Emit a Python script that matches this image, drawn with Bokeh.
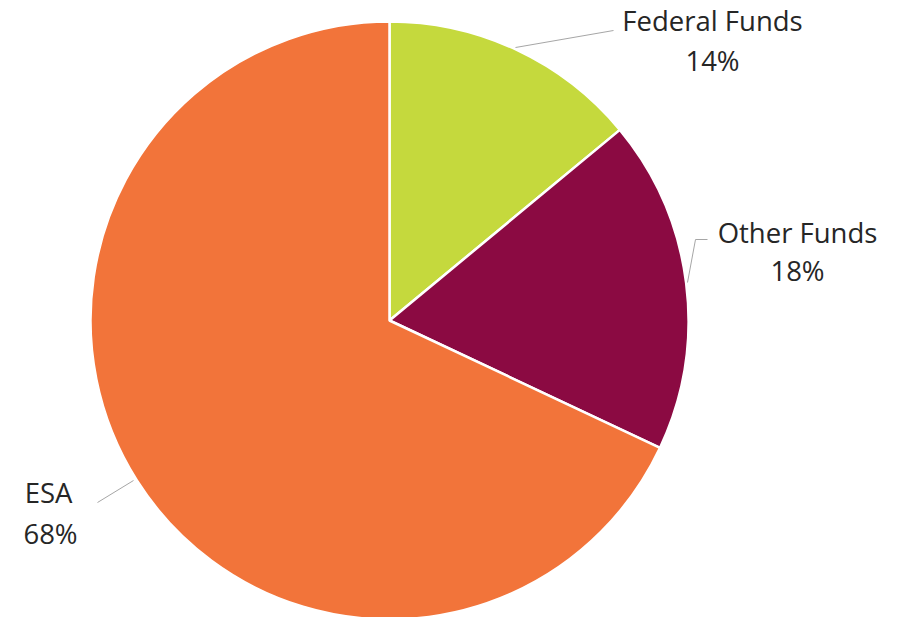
import numpy as np
from bokeh.plotting import figure
from bokeh.models import Range1d
from bokeh.core.properties import value
from bokeh.embed import file_html
from bokeh.resources import INLINE

categories = ["Federal Funds", "Other Funds", "ESA"]
shares = [14, 18, 68]
pct_labels = ["14%", "18%", "68%"]
colors = ["#C5D93D", "#8B0A42", "#F2743A"]

W, H = 900, 617
p = figure(width=W, height=H, output_backend="svg", toolbar_location=None,
           x_range=Range1d(0, W), y_range=Range1d(0, H), min_border=0)
p.axis.visible = False
p.grid.visible = False
p.outline_line_color = None
p.background_fill_color = "white"

def pt(px, py):
    return px, H - py

cx, cy = pt(389, 320)
r = 299
frac = np.array(shares) / sum(shares)
ends = np.cumsum(frac)
starts = ends - frac
start_ang = np.pi / 2 - starts * 2 * np.pi
end_ang = np.pi / 2 - ends * 2 * np.pi
p.wedge(x=[cx] * 3, y=[cy] * 3, radius=r, start_angle=list(start_ang), end_angle=list(end_ang),
        direction="clock", fill_color=colors, line_color="white", line_width=2.5)

lines = [[(515, 47), (613, 30)], [(687, 282), (695, 239), (707, 239)], [(97, 502), (133, 480)]]
for ln in lines:
    xs, ys = zip(*[pt(*q) for q in ln])
    p.line(list(xs), list(ys), line_color="#A6A6A6", line_width=1)

name_pos = [(712, 20), (797, 232), (48, 492)]
pct_pos = [(712, 60), (797, 270), (50, 533)]
for i in range(3):
    x, y = pt(*name_pos[i])
    p.text(x=[x], y=[y], text=[categories[i]], text_font=value("Open Sans"), text_font_size="27.5px",
           text_color="#262626", text_align="center", text_baseline="middle")
    x, y = pt(*pct_pos[i])
    p.text(x=[x], y=[y], text=[pct_labels[i]], text_font=value("Open Sans"), text_font_size="27.5px",
           text_color="#262626", text_align="center", text_baseline="middle")

open("out.html", "w").write(file_html(p, INLINE))
